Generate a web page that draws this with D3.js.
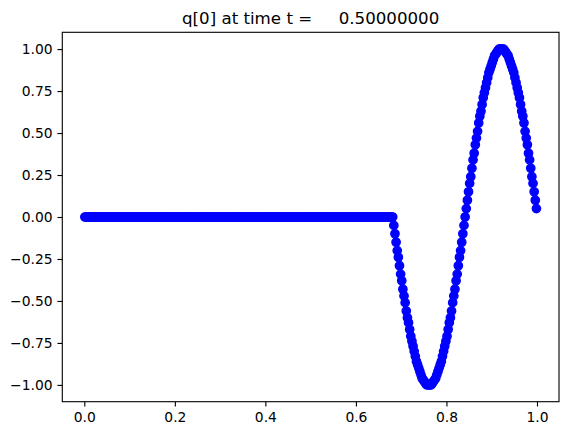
<!DOCTYPE html>
<html><head><meta charset="utf-8">
<script src="https://cdn.jsdelivr.net/npm/d3@7"></script>
<style>body{margin:0;background:#fff}svg{display:block}text{font-family:"DejaVu Sans",sans-serif}</style>
</head><body><svg id="c" width="568" height="435"></svg>
<script>
// cell centres (x)
const xs=[
0.00125,0.00375,0.00625,0.00875,0.01125,0.01375,0.01625,0.01875,0.02125,0.02375,0.02625,0.02875,0.03125,0.03375,0.03625,0.03875,
0.04125,0.04375,0.04625,0.04875,0.05125,0.05375,0.05625,0.05875,0.06125,0.06375,0.06625,0.06875,0.07125,0.07375,0.07625,0.07875,
0.08125,0.08375,0.08625,0.08875,0.09125,0.09375,0.09625,0.09875,0.10125,0.10375,0.10625,0.10875,0.11125,0.11375,0.11625,0.11875,
0.12125,0.12375,0.12625,0.12875,0.13125,0.13375,0.13625,0.13875,0.14125,0.14375,0.14625,0.14875,0.15125,0.15375,0.15625,0.15875,
0.16125,0.16375,0.16625,0.16875,0.17125,0.17375,0.17625,0.17875,0.18125,0.18375,0.18625,0.18875,0.19125,0.19375,0.19625,0.19875,
0.20125,0.20375,0.20625,0.20875,0.21125,0.21375,0.21625,0.21875,0.22125,0.22375,0.22625,0.22875,0.23125,0.23375,0.23625,0.23875,
0.24125,0.24375,0.24625,0.24875,0.25125,0.25375,0.25625,0.25875,0.26125,0.26375,0.26625,0.26875,0.27125,0.27375,0.27625,0.27875,
0.28125,0.28375,0.28625,0.28875,0.29125,0.29375,0.29625,0.29875,0.30125,0.30375,0.30625,0.30875,0.31125,0.31375,0.31625,0.31875,
0.32125,0.32375,0.32625,0.32875,0.33125,0.33375,0.33625,0.33875,0.34125,0.34375,0.34625,0.34875,0.35125,0.35375,0.35625,0.35875,
0.36125,0.36375,0.36625,0.36875,0.37125,0.37375,0.37625,0.37875,0.38125,0.38375,0.38625,0.38875,0.39125,0.39375,0.39625,0.39875,
0.40125,0.40375,0.40625,0.40875,0.41125,0.41375,0.41625,0.41875,0.42125,0.42375,0.42625,0.42875,0.43125,0.43375,0.43625,0.43875,
0.44125,0.44375,0.44625,0.44875,0.45125,0.45375,0.45625,0.45875,0.46125,0.46375,0.46625,0.46875,0.47125,0.47375,0.47625,0.47875,
0.48125,0.48375,0.48625,0.48875,0.49125,0.49375,0.49625,0.49875,0.50125,0.50375,0.50625,0.50875,0.51125,0.51375,0.51625,0.51875,
0.52125,0.52375,0.52625,0.52875,0.53125,0.53375,0.53625,0.53875,0.54125,0.54375,0.54625,0.54875,0.55125,0.55375,0.55625,0.55875,
0.56125,0.56375,0.56625,0.56875,0.57125,0.57375,0.57625,0.57875,0.58125,0.58375,0.58625,0.58875,0.59125,0.59375,0.59625,0.59875,
0.60125,0.60375,0.60625,0.60875,0.61125,0.61375,0.61625,0.61875,0.62125,0.62375,0.62625,0.62875,0.63125,0.63375,0.63625,0.63875,
0.64125,0.64375,0.64625,0.64875,0.65125,0.65375,0.65625,0.65875,0.66125,0.66375,0.66625,0.66875,0.67125,0.67375,0.67625,0.67875,
0.68125,0.68375,0.68625,0.68875,0.69125,0.69375,0.69625,0.69875,0.70125,0.70375,0.70625,0.70875,0.71125,0.71375,0.71625,0.71875,
0.72125,0.72375,0.72625,0.72875,0.73125,0.73375,0.73625,0.73875,0.74125,0.74375,0.74625,0.74875,0.75125,0.75375,0.75625,0.75875,
0.76125,0.76375,0.76625,0.76875,0.77125,0.77375,0.77625,0.77875,0.78125,0.78375,0.78625,0.78875,0.79125,0.79375,0.79625,0.79875,
0.80125,0.80375,0.80625,0.80875,0.81125,0.81375,0.81625,0.81875,0.82125,0.82375,0.82625,0.82875,0.83125,0.83375,0.83625,0.83875,
0.84125,0.84375,0.84625,0.84875,0.85125,0.85375,0.85625,0.85875,0.86125,0.86375,0.86625,0.86875,0.87125,0.87375,0.87625,0.87875,
0.88125,0.88375,0.88625,0.88875,0.89125,0.89375,0.89625,0.89875,0.90125,0.90375,0.90625,0.90875,0.91125,0.91375,0.91625,0.91875,
0.92125,0.92375,0.92625,0.92875,0.93125,0.93375,0.93625,0.93875,0.94125,0.94375,0.94625,0.94875,0.95125,0.95375,0.95625,0.95875,
0.96125,0.96375,0.96625,0.96875,0.97125,0.97375,0.97625,0.97875,0.98125,0.98375,0.98625,0.98875,0.99125,0.99375,0.99625,0.99875
];
// q[0] values
const qs=[
0,0,0,0,0,0,0,0,0,0,0,0,0,0,0,0,
0,0,0,0,0,0,0,0,0,0,0,0,0,0,0,0,
0,0,0,0,0,0,0,0,0,0,0,0,0,0,0,0,
0,0,0,0,0,0,0,0,0,0,0,0,0,0,0,0,
0,0,0,0,0,0,0,0,0,0,0,0,0,0,0,0,
0,0,0,0,0,0,0,0,0,0,0,0,0,0,0,0,
0,0,0,0,0,0,0,0,0,0,0,0,0,0,0,0,
0,0,0,0,0,0,0,0,0,0,0,0,0,0,0,0,
0,0,0,0,0,0,0,0,0,0,0,0,0,0,0,0,
0,0,0,0,0,0,0,0,0,0,0,0,0,0,0,0,
0,0,0,0,0,0,0,0,0,0,0,0,0,0,0,0,
0,0,0,0,0,0,0,0,0,0,0,0,0,0,0,0,
0,0,0,0,0,0,0,0,0,0,0,0,0,0,0,0,
0,0,0,0,0,0,0,0,0,0,0,0,0,0,0,0,
0,0,0,0,0,0,0,0,0,0,0,0,0,0,0,0,
0,0,0,0,0,0,0,0,0,0,0,0,0,0,0,0,
0,0,0,0,0,0,0,0,0,0,0,0,0,0,0,0,
0,-0.05,-0.10,-0.15,-0.20,-0.24,-0.29,-0.34,-0.38,-0.43,-0.47,-0.51,-0.56,-0.60,-0.63,-0.67,
-0.71,-0.74,-0.77,-0.80,-0.83,-0.86,-0.88,-0.90,-0.92,-0.94,-0.96,-0.97,-0.98,-0.99,-1.00,-1.00,
-1.00,-1.00,-1.00,-0.99,-0.98,-0.97,-0.96,-0.94,-0.92,-0.90,-0.88,-0.86,-0.83,-0.80,-0.77,-0.74,
-0.71,-0.67,-0.63,-0.60,-0.56,-0.51,-0.47,-0.43,-0.38,-0.34,-0.29,-0.24,-0.20,-0.15,-0.10,-0.05,
0,0.05,0.10,0.15,0.20,0.24,0.29,0.34,0.38,0.43,0.47,0.51,0.56,0.60,0.63,0.67,
0.71,0.74,0.77,0.80,0.83,0.86,0.88,0.90,0.92,0.94,0.96,0.97,0.98,0.99,1.00,1.00,
1.00,1.00,1.00,0.99,0.98,0.97,0.96,0.94,0.92,0.90,0.88,0.86,0.83,0.80,0.77,0.74,
0.71,0.67,0.63,0.60,0.56,0.51,0.47,0.43,0.38,0.34,0.29,0.24,0.20,0.15,0.10,0.05
];
const xTicks=[0,0.2,0.4,0.6,0.8,1.0];
const yTicks=[-1,-0.75,-0.5,-0.25,0,0.25,0.5,0.75,1];
const titleText="q[0] at time t =     0.50000000";

const W=568,H=435;
const L=62.3,R=559,T=32.3,B=401.7;
const pad=0.05;
const xe=d3.extent(xs), ye=d3.extent(qs);
const xr=xe[1]-xe[0], yr=ye[1]-ye[0];
const x=d3.scaleLinear().domain([xe[0]-pad*xr,xe[1]+pad*xr]).range([L,R]);
const y=d3.scaleLinear().domain([ye[0]-pad*yr,ye[1]+pad*yr]).range([B,T]);

const svg=d3.select("#c");
svg.append("rect").attr("width",W).attr("height",H).attr("fill","#fff");

svg.append("g").selectAll("circle").data(xs).join("circle")
  .attr("cx",d=>x(d)).attr("cy",(d,i)=>y(qs[i])).attr("r",4.17)
  .attr("fill","#0000ff").attr("stroke","#0000ff").attr("stroke-width",1.39);

const fs=13.89, tl=4.86;
const gx=svg.append("g").attr("transform",`translate(0,${B})`)
  .call(d3.axisBottom(x).tickValues(xTicks).tickFormat(d3.format(".1f")).tickSize(tl).tickPadding(tl));
const gy=svg.append("g").attr("transform",`translate(${L},0)`)
  .call(d3.axisLeft(y).tickValues(yTicks).tickFormat(d3.format(".2f")).tickSize(tl).tickPadding(tl));
[gx,gy].forEach(g=>{
  g.select(".domain").remove();
  g.attr("font-family","DejaVu Sans").attr("font-size",fs);
  g.selectAll("line").attr("stroke","#000").attr("stroke-width",1.11);
  g.selectAll("text").attr("fill","#000");
});
gx.selectAll("text").attr("dy","0.76em");
gy.selectAll("text").attr("dy","0.35em");

svg.append("rect").attr("x",L).attr("y",T).attr("width",R-L).attr("height",B-T)
  .attr("fill","none").attr("stroke","#000").attr("stroke-width",1.11);

svg.append("text").attr("x",(L+R)/2).attr("y",T-8.33)
  .attr("text-anchor","middle").attr("font-size",16.67).attr("font-family","DejaVu Sans")
  .style("white-space","pre").attr("fill","#000").text(titleText);
</script></body></html>
